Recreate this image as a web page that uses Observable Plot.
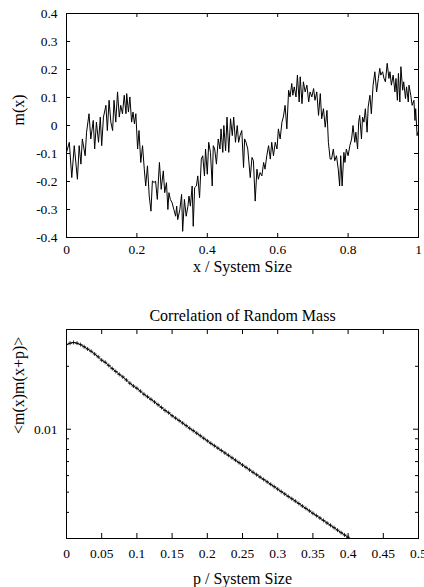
<!DOCTYPE html>
<html><head><meta charset="utf-8">
<script src="https://cdn.jsdelivr.net/npm/d3@7"></script>
<script src="https://cdn.jsdelivr.net/npm/@observablehq/plot@0.6"></script>
<style>
body{margin:0;background:#fff}
#c svg{display:block;margin:0;padding:0}
#c svg, #c svg text{font-family:"Liberation Serif","Times New Roman",serif !important;}
</style>
</head><body><div id="c"></div>
<script>
// Top panel: random mass m(x) vs position
const posX = [0,0.008,0.015,0.022,0.031,0.036,0.041,0.045,0.053,0.057,0.064,0.069,0.076,0.080,0.085,0.091,0.096,0.100,0.105,0.112,0.116,0.121,0.126,0.131,0.135,0.140,0.145,0.150,0.154,0.159,0.164,0.169,0.171,0.176,0.180,0.185,0.189,0.193,0.197,0.202,0.206,0.211,0.216,0.221,0.225,0.230,0.235,0.240,0.244,0.249,0.253,0.258,0.264,0.269,0.275,0.279,0.284,0.288,0.291,0.295,0.300,0.305,0.310,0.313,0.316,0.322,0.327,0.330,0.335,0.340,0.345,0.348,0.352,0.357,0.360,0.364,0.369,0.373,0.378,0.383,0.387,0.392,0.395,0.400,0.404,0.409,0.414,0.417,0.421,0.426,0.431,0.436,0.439,0.444,0.447,0.452,0.456,0.461,0.466,0.471,0.475,0.480,0.485,0.489,0.493,0.498,0.503,0.506,0.510,0.515,0.522,0.527,0.531,0.536,0.541,0.545,0.550,0.555,0.560,0.564,0.569,0.574,0.579,0.583,0.588,0.593,0.598,0.602,0.607,0.612,0.616,0.621,0.626,0.631,0.635,0.640,0.643,0.647,0.652,0.656,0.661,0.664,0.669,0.673,0.678,0.683,0.688,0.692,0.697,0.702,0.706,0.711,0.716,0.721,0.725,0.730,0.735,0.740,0.744,0.749,0.753,0.758,0.762,0.767,0.772,0.776,0.779,0.783,0.788,0.791,0.795,0.800,0.805,0.810,0.814,0.819,0.822,0.827,0.830,0.833,0.838,0.841,0.845,0.849,0.854,0.857,0.862,0.866,0.871,0.876,0.881,0.886,0.890,0.893,0.898,0.902,0.906,0.911,0.916,0.919,0.923,0.928,0.933,0.936,0.940,0.943,0.947,0.950,0.955,0.958,0.963,0.966,0.971,0.973,0.978,0.982,0.987,0.990,0.992,0.996,1.000];
const mass = [-0.096,-0.06,-0.186,-0.072,-0.192,-0.072,-0.138,-0.048,-0.108,-0.024,0.042,-0.048,0.018,-0.084,0.012,-0.06,0.03,-0.072,0.03,0.072,-0.018,0.09,0.012,-0.018,0.09,0.012,0.12,0.03,0.072,0.042,0.108,0.042,0.114,0.048,0.102,0.012,0.048,0.006,0.042,-0.084,-0.018,-0.132,-0.072,-0.156,-0.216,-0.144,-0.252,-0.306,-0.198,-0.204,-0.198,-0.264,-0.132,-0.228,-0.162,-0.24,-0.204,-0.30,-0.24,-0.264,-0.276,-0.30,-0.324,-0.288,-0.336,-0.30,-0.246,-0.378,-0.264,-0.324,-0.288,-0.252,-0.288,-0.216,-0.36,-0.222,-0.216,-0.18,-0.258,-0.12,-0.108,-0.18,-0.084,-0.174,-0.06,-0.096,-0.216,-0.072,-0.084,-0.138,-0.048,-0.084,-0.012,-0.096,0,-0.09,0.03,-0.096,0.024,-0.036,0.03,-0.06,0,-0.06,-0.036,-0.018,-0.15,-0.048,-0.06,-0.084,-0.186,-0.114,-0.126,-0.27,-0.156,-0.192,-0.168,-0.18,-0.132,-0.156,-0.108,-0.072,-0.12,-0.06,-0.108,-0.06,-0.084,-0.012,-0.048,0.012,0.03,0.072,-0.012,0.126,0.102,0.15,0.108,0.138,0.102,0.18,0.084,0.174,0.078,0.156,0.12,0.144,0.084,0.12,0.102,0.132,0.09,0.12,0.036,0.114,0.024,0.06,-0.006,0.054,-0.06,-0.12,-0.12,-0.084,-0.126,-0.108,-0.156,-0.216,-0.108,-0.216,-0.096,-0.132,-0.084,-0.108,-0.072,-0.048,0,-0.06,-0.024,-0.084,0.012,0.036,-0.048,0.03,0.012,0.06,-0.024,0.066,0.108,0.042,0.144,0.192,0.12,0.168,0.204,0.18,0.192,0.168,0.156,0.222,0.168,0.192,0.144,0.18,0.12,0.168,0.09,0.186,0.084,0.21,0.126,0.156,0.096,0.138,0.084,0.144,0.108,0.072,0.09,0.018,0.06,-0.036,-0.02];
const xTicksTop = [0,0.2,0.4,0.6,0.8,1];
const yTicksTop = [-0.4,-0.3,-0.2,-0.1,0,0.1,0.2,0.3,0.4];

// Bottom panel: correlation of random mass
const sepP = [0,0.005,0.01,0.015,0.02,0.025,0.03,0.035,0.04,0.045,0.05,0.055,0.06,0.065,0.07,0.075,0.08,0.085,0.09,0.095,0.1,0.105,0.11,0.115,0.12,0.125,0.13,0.135,0.14,0.145,0.15,0.155,0.16,0.165,0.17,0.175,0.18,0.185,0.19,0.195,0.2,0.205,0.21,0.215,0.22,0.225,0.23,0.235,0.24,0.245,0.25,0.255,0.26,0.265,0.27,0.275,0.28,0.285,0.29,0.295,0.3,0.305,0.31,0.315,0.32,0.325,0.33,0.335,0.34,0.345,0.35,0.355,0.36,0.365,0.37,0.375,0.38,0.385,0.39,0.395,0.4];
const corr = [0.0254,0.0258,0.0260,0.0258,0.0254,0.0248,0.0242,0.0236,0.0229,0.0222,0.0214,0.0209,0.0202,0.0195,0.0189,0.0183,0.0178,0.0172,0.0166,0.0161,0.0157,0.0152,0.0147,0.0143,0.0139,0.0135,0.0131,0.0127,0.0123,0.0120,0.0116,0.0113,0.0110,0.0107,0.0104,0.0101,0.00984,0.00957,0.00931,0.00905,0.00880,0.00856,0.00834,0.00812,0.00791,0.00770,0.00750,0.00730,0.00711,0.00692,0.00674,0.00657,0.00639,0.00622,0.00606,0.00590,0.00575,0.00560,0.00545,0.00531,0.00517,0.00503,0.00490,0.00477,0.00465,0.00453,0.00441,0.00429,0.00418,0.00407,0.00396,0.00386,0.00376,0.00366,0.00356,0.00347,0.00338,0.00329,0.00320,0.00312,0.00304];
const xTicksBot = [0,0.05,0.1,0.15,0.2,0.25,0.3,0.35,0.4,0.45,0.5];
const yMajorBot = [0.01];
const yMinorBot = [0.003,0.004,0.005,0.006,0.007,0.008,0.009,0.02,0.03];

const font = "Liberation Serif";
const fmt = d => String(d);
const baseStyle = {fontFamily: "'Liberation Serif', serif", fontSize: "13.5px", color: "black", background: "white"};
const lbl = {fontSize: 16, fill: "black", fontFamily: font, lineAnchor: "middle"};

// frame sizes used for inward tick lengths
const W = 352, H1 = 224, H2 = 209;
const inTicks = (xt, yt, h, len, lenY) => [
  Plot.tickX(xt, {x: d => d, insetTop: h - len, stroke: "black"}),
  Plot.tickX(xt, {x: d => d, insetBottom: h - len, stroke: "black"}),
  Plot.tickY(yt, {y: d => d, insetRight: W - lenY, stroke: "black"}),
  Plot.tickY(yt, {y: d => d, insetLeft: W - lenY, stroke: "black"})
];

const topData = posX.map((x, i) => ({x, m: mass[i]}));
const topPlot = Plot.plot({
  width: 424, height: 290,
  marginLeft: 66, marginRight: 6, marginTop: 13, marginBottom: 53,
  style: baseStyle,
  x: {domain: [0, 1]},
  y: {domain: [-0.4, 0.4]},
  marks: [
    Plot.line(topData, {x: "x", y: "m", stroke: "black", strokeWidth: 1}),
    ...inTicks(xTicksTop, yTicksTop, H1, 4, 4),
    Plot.axisX({ticks: xTicksTop, anchor: "bottom", tickSize: 0, tickPadding: 7, tickFormat: fmt, label: null, fontFamily: font, fill: "black"}),
    Plot.axisY({ticks: yTicksTop, anchor: "left", tickSize: 0, tickPadding: 9, tickFormat: fmt, label: null, fontFamily: font, fill: "black"}),
    Plot.frame({stroke: "black", strokeWidth: 1}),
    Plot.text(["x / System Size"], {frameAnchor: "bottom", dy: 29, ...lbl}),
    Plot.text(["m(x)"], {frameAnchor: "left", dx: -48, rotate: -90, ...lbl})
  ]
});

const botData = sepP.map((p, i) => ({p, c: corr[i]}));
const botPlot = Plot.plot({
  width: 424, height: 297,
  marginLeft: 66, marginRight: 6, marginTop: 39, marginBottom: 49,
  style: baseStyle,
  x: {domain: [0, 0.5]},
  y: {type: "log", domain: [0.003, 0.03]},
  marks: [
    Plot.line(botData, {x: "p", y: "c", stroke: "black", strokeWidth: 1, clip: true}),
    Plot.dot(botData, {x: "p", y: "c", symbol: "plus", r: 1.4, stroke: "black", strokeWidth: 0.8, clip: true}),
    ...inTicks(xTicksBot, yMajorBot, H2, 5, 5),
    Plot.tickY(yMinorBot, {y: d => d, insetRight: W - 3, stroke: "black"}),
    Plot.tickY(yMinorBot, {y: d => d, insetLeft: W - 3, stroke: "black"}),
    Plot.axisX({ticks: xTicksBot, anchor: "bottom", tickSize: 0, tickPadding: 10, tickFormat: fmt, label: null, fontFamily: font, fill: "black"}),
    Plot.axisY({ticks: yMajorBot, anchor: "left", tickSize: 0, tickPadding: 9, tickFormat: fmt, label: null, fontFamily: font, fill: "black"}),
    Plot.frame({stroke: "black", strokeWidth: 1}),
    Plot.text(["Correlation of Random Mass"], {frameAnchor: "top", dy: -14, ...lbl}),
    Plot.text(["p / System Size"], {frameAnchor: "bottom", dy: 40, ...lbl}),
    Plot.text(["<m(x)m(x+p)>"], {frameAnchor: "left", dx: -48, rotate: -90, ...lbl})
  ]
});

const c = document.getElementById("c");
c.appendChild(topPlot);
c.appendChild(botPlot);
</script>
</body></html>
